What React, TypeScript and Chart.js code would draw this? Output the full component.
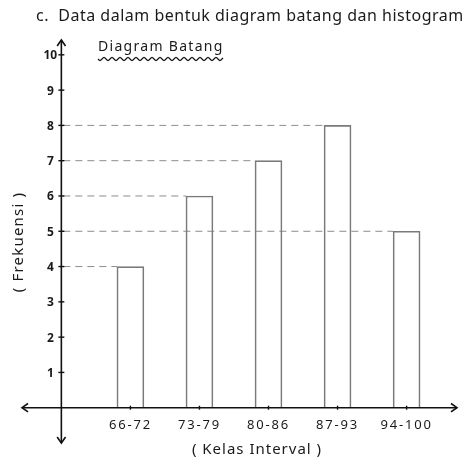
import React, { useEffect, useRef } from "react";
import { Chart, registerables } from "chart.js";

Chart.register(...registerables);

const categories = ["66-72", "73-79", "80-86", "87-93", "94-100"];
const frequencies = [4, 6, 7, 8, 5];
const yTickValues = [1, 2, 3, 4, 5, 6, 7, 8, 9, 10];
const titleText = "c.  Data dalam bentuk diagram batang dan histogram";
const subtitleText = "Diagram Batang";
const yAxisTitle = "( Frekuensi )";
const xAxisTitle = "( Kelas Interval )";

const FONT = '"Noto Sans", "DejaVu Sans", sans-serif';

function arrowHead(ctx: CanvasRenderingContext2D, x: number, y: number, dx: number, dy: number) {
  const s = 6;
  ctx.beginPath();
  ctx.moveTo(x - dx * s + dy * s * 0.7, y - dy * s + dx * s * 0.7);
  ctx.lineTo(x, y);
  ctx.lineTo(x - dx * s - dy * s * 0.7, y - dy * s - dx * s * 0.7);
  ctx.stroke();
}

function setSpacing(ctx: any, px: number) {
  if ("letterSpacing" in ctx) ctx.letterSpacing = `${px}px`;
}

const decorPlugin = {
  id: "decor",
  beforeDatasetsDraw(chart: any) {
    const { ctx, scales } = chart;
    const x0 = scales.x.getPixelForValue(0);
    const meta = chart.getDatasetMeta(0);
    ctx.save();
    ctx.strokeStyle = "#8c8c8c";
    ctx.lineWidth = 1;
    ctx.setLineDash([7, 5]);
    meta.data.forEach((bar: any) => {
      const p = bar.getProps(["x", "y", "width"], true);
      ctx.beginPath();
      ctx.moveTo(x0 + 2, p.y);
      ctx.lineTo(p.x - p.width / 2, p.y);
      ctx.stroke();
    });
    ctx.restore();
  },
  afterDraw(chart: any) {
    const { ctx, scales, chartArea } = chart;
    const xs = scales.x;
    const ys = scales.y;
    const x0 = xs.getPixelForValue(0);
    const y0 = ys.getPixelForValue(0);
    ctx.save();

    // axes
    ctx.strokeStyle = "#111";
    ctx.lineWidth = 1.6;
    ctx.beginPath();
    ctx.moveTo(x0, chartArea.top);
    ctx.lineTo(x0, chartArea.bottom);
    ctx.moveTo(chartArea.left, y0);
    ctx.lineTo(chartArea.right, y0);
    ctx.stroke();
    arrowHead(ctx, x0, chartArea.top, 0, -1);
    arrowHead(ctx, x0, chartArea.bottom, 0, 1);
    arrowHead(ctx, chartArea.left, y0, -1, 0);
    arrowHead(ctx, chartArea.right, y0, 1, 0);

    // y ticks
    ctx.lineWidth = 1.4;
    ctx.fillStyle = "#1a1a1a";
    ctx.font = `bold 12px ${FONT}`;
    ctx.textAlign = "center";
    ctx.textBaseline = "middle";
    yTickValues.forEach((v) => {
      const py = ys.getPixelForValue(v);
      ctx.beginPath();
      ctx.moveTo(x0 - 3, py);
      ctx.lineTo(x0 + 3, py);
      ctx.stroke();
      ctx.fillText(String(v), x0 - 11, py + 1);
    });

    // x ticks
    ctx.font = `13px ${FONT}`;
    setSpacing(ctx, 1.8);
    categories.forEach((c, i) => {
      const px = xs.getPixelForValue(i + 1);
      ctx.beginPath();
      ctx.moveTo(px, y0 - 2);
      ctx.lineTo(px, y0 + 2);
      ctx.stroke();
      ctx.fillText(c, px, y0 + 18);
    });

    // titles
    ctx.textBaseline = "alphabetic";
    ctx.textAlign = "left";
    ctx.font = `16px ${FONT}`;
    setSpacing(ctx, 0.5);
    ctx.fillText(titleText, 36, 21, 434);

    ctx.font = `14px ${FONT}`;
    setSpacing(ctx, 1.3);
    const sx = 98;
    const sw = ctx.measureText(subtitleText).width;
    ctx.fillText(subtitleText, sx, 51);
    ctx.lineWidth = 1.2;
    ctx.beginPath();
    for (let t = 0; t <= sw; t += 1) {
      const yy = 59 + Math.sin((t / 8) * Math.PI * 2) * 1.5;
      if (t === 0) ctx.moveTo(sx + t, yy);
      else ctx.lineTo(sx + t, yy);
    }
    ctx.stroke();

    ctx.font = `15px ${FONT}`;
    setSpacing(ctx, 1);
    ctx.textAlign = "center";
    ctx.textBaseline = "middle";
    ctx.fillText(xAxisTitle, 257, 450);

    setSpacing(ctx, 1.2);
    ctx.translate(19, 242);
    ctx.rotate(-Math.PI / 2);
    ctx.fillText(yAxisTitle, 0, 0);
    ctx.restore();
  },
};

export default function App() {
  const canvasRef = useRef<HTMLCanvasElement | null>(null);

  useEffect(() => {
    const canvas = canvasRef.current;
    if (!canvas) return;
    const chart = new Chart(canvas, {
      type: "bar",
      data: {
        datasets: [
          {
            data: frequencies.map((v, i) => ({ x: i + 1, y: v })),
            backgroundColor: "rgba(0,0,0,0)",
            borderColor: "#7a7a7a",
            borderWidth: 1,
            barThickness: 27,
          },
        ],
      },
      options: {
        responsive: false,
        animation: false,
        devicePixelRatio: 1,
        layout: { padding: { left: 22, right: 15, top: 40, bottom: 26 } },
        plugins: {
          legend: { display: false },
          tooltip: { enabled: false },
          title: { display: false },
        },
        scales: {
          x: { type: "linear", display: false, offset: false, min: -0.57, max: 5.73 },
          y: { type: "linear", display: false, min: -1, max: 10.42 },
        },
      },
      plugins: [decorPlugin],
    });
    return () => chart.destroy();
  }, []);

  return (
    <canvas
      ref={canvasRef}
      width={472}
      height={469}
      style={{ position: "fixed", left: 0, top: 0, display: "block", background: "#fff" }}
    />
  );
}
